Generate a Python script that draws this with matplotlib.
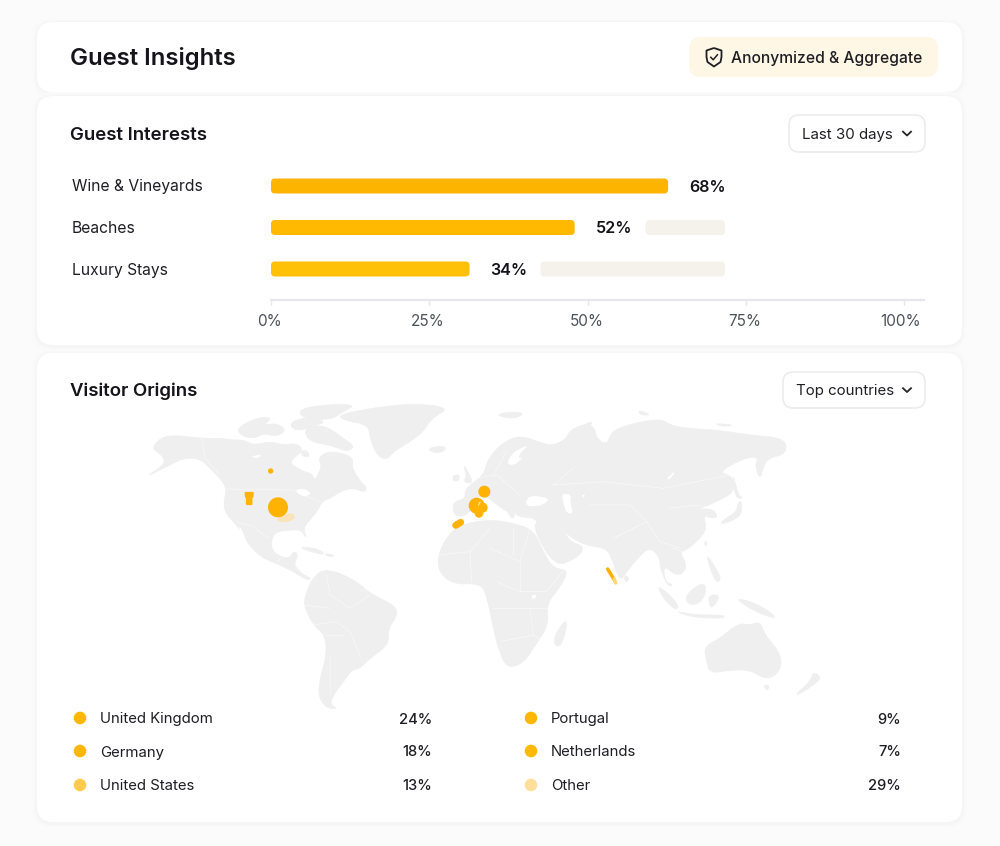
import matplotlib
matplotlib.use("Agg")
import matplotlib.pyplot as plt
from matplotlib.patches import FancyBboxPatch, Polygon, Circle, PathPatch
from matplotlib.path import Path

plt.rcParams['font.family'] = ['Inter', 'DejaVu Sans']

# Bars
interest_names = ["Wine & Vineyards", "Beaches", "Luxury Stays"]
interest_values = [68, 52, 34]
interest_colors = ["#FDB400", "#FFBA00", "#FFC108"]
axis_ticks = [0, 25, 50, 75, 100]

# Legend table
left_names = ["United Kingdom", "Germany", "United States"]
left_values = [24, 18, 13]
left_colors = ["#FFB703", "#FFB703", "#FFCB4F"]
right_names = ["Portugal", "Netherlands", "Other"]
right_values = [9, 7, 29]
right_colors = ["#FFB703", "#FFBA08", "#FFDF9B"]

# World outlines in map units (3 units = 1 px)
north_america = [(65,160),(90,130),(130,120),(215,130),(270,130),(310,135),(340,135),(370,150),(420,140),(460,150),(500,145),(520,165),(490,190),(480,205),(520,230),(545,235),(555,258),(565,235),(575,215),(565,190),(590,170),(640,175),(670,190),(665,220),(700,270),(710,290),(670,280),(640,285),(600,310),(575,320),(565,345),(535,380),(520,400),(530,432),(515,405),(480,405),(440,410),(425,430),(425,465),(450,485),(480,490),(490,468),(505,480),(490,510),(520,540),(545,550),(530,555),(490,530),(450,510),(400,490),(365,460),(345,430),(320,390),(290,360),(280,330),(290,280),(270,250),(245,225),(210,190),(160,190),(130,205),(40,250),(110,205),(90,175)]
greenland = [(625,60),(720,40),(850,25),(960,38),(905,70),(880,110),(840,140),(790,170),(770,195),(740,180),(720,130),(715,90),(640,75)]
south_america = [(575,525),(620,530),(680,560),(720,595),(800,635),(800,665),(775,700),(775,750),(720,790),(690,820),(665,825),(640,860),(610,900),(600,930),(625,940),(590,940),(565,905),(570,850),(590,780),(585,720),(550,690),(520,630),(530,590),(545,555)]
africa = [(925,470),(970,400),(1030,380),(1090,375),(1150,385),(1210,405),(1240,470),(1270,520),(1315,525),(1295,570),(1250,625),(1255,690),(1220,745),(1180,805),(1130,820),(1105,760),(1090,700),(1070,600),(1050,565),(970,568),(925,530)]
eurasia = [(970,360),(970,320),(1005,312),(1005,285),(1030,262),(1060,240),(1075,190),(1115,145),(1170,120),(1245,148),(1275,150),(1310,130),(1320,105),(1370,85),(1395,100),(1400,130),(1430,150),(1445,110),(1490,90),(1590,70),(1620,90),(1670,100),(1760,105),(1860,120),(1965,130),(1970,175),(1915,190),(1900,215),(1890,255),(1875,210),(1885,190),(1860,185),(1800,210),(1770,235),(1805,240),(1815,290),(1760,320),(1700,345),(1745,340),(1765,365),(1745,370),(1720,360),(1730,400),(1710,430),(1670,465),(1650,470),(1670,510),(1660,535),(1635,540),(1600,510),(1605,560),(1630,570),(1615,575),(1590,520),(1590,490),(1565,460),(1540,470),(1490,530),(1470,560),(1445,490),(1430,460),(1365,450),(1320,425),(1300,405),(1320,440),(1365,455),(1340,490),(1275,515),(1210,405),(1225,370),(1160,365),(1155,345),(1150,380),(1115,320),(1085,300),(1140,345),(1130,352),(1065,300),(1030,310),(1025,345),(1000,365)]
australia = [(1722,755),(1770,730),(1825,685),(1860,690),(1890,680),(1905,720),(1955,780),(1950,830),(1910,855),(1860,825),(1805,825),(1740,835),(1730,800)]
islands = [
    [(320,105),(345,85),(395,65),(425,70),(400,90),(440,85),(470,105),(440,125),(400,115),(375,130),(340,125)],
    [(505,45),(570,30),(680,28),(640,50),(600,75),(520,70)],
    [(520,105),(560,90),(600,100),(640,130),(675,155),(650,170),(600,150),(540,140)],
    [(475,85),(530,65),(590,80),(555,92),(500,110)],
    [(510,170),(530,165),(540,185),(520,185)],
    [(665,265),(705,265),(710,290),(680,285)],
    [(890,160),(945,152),(945,168),(915,175)],
    [(1095,60),(1140,50),(1185,55),(1150,72)],
    [(505,455),(560,460),(590,480),(540,470)],
    [(580,475),(615,480),(600,487)],
    [(1000,210),(1012,225),(1030,265),(1000,262),(1010,240)],
    [(970,240),(990,240),(985,258),(968,258)],
    [(1325,110),(1380,80),(1390,85),(1340,120)],
    [(1525,45),(1565,60),(1530,60)],
    [(1750,85),(1815,90),(1780,95)],
    [(1770,388),(1780,375),(1820,350),(1825,320),(1835,320),(1835,360),(1800,380)],
    [(1810,240),(1825,300),(1840,310),(1820,310),(1805,260)],
    [(1485,540),(1498,550),(1490,562),(1483,555)],
    [(1725,435),(1732,445),(1725,455)],
    [(1730,480),(1745,500),(1775,550),(1760,565),(1740,520)],
    [(1665,600),(1720,560),(1730,590),(1710,625),(1675,630)],
    [(1580,570),(1620,600),(1648,635),(1635,645),(1600,610)],
    [(1645,650),(1700,660),(1785,660),(1780,670),(1700,668),(1650,655)],
    [(1735,600),(1770,600),(1755,630),(1740,640)],
    [(1815,610),(1865,620),(1920,650),(1940,670),(1900,660),(1860,640)],
    [(1900,870),(1920,872),(1910,888)],
    [(2050,830),(2075,848),(2050,870),(2005,900),(2000,895),(2040,860)],
    [(1305,675),(1312,690),(1295,750),(1275,755),(1272,725)],
]
# Inland water and enclosed seas
water = [
    [(1130,205),(1145,178),(1170,160),(1195,152),(1172,172),(1165,190),(1180,188),(1150,212)],
    [(1185,325),(1200,300),(1260,310),(1240,330),(1200,335)],
    [(1295,295),(1325,300),(1320,320),(1330,355),(1310,355),(1300,325)],
    [(1355,300),(1365,298),(1360,310)],
    [(1610,250),(1635,228),(1630,240),(1615,255)],
    [(1205,600),(1220,600),(1215,612),(1205,610)],
    [(495,285),(520,280),(545,295),(525,305),(510,300)],
    [(325,395),(335,400),(352,450),(340,440)],
    [(360,185),(395,178),(385,190)],
]
borders = [
    [(285,282),(490,285),(520,300),(570,320)], [(215,130),(225,190),(270,240)],
    [(320,380),(370,395),(415,430)], [(440,500),(470,480)],
    [(590,540),(600,600),(660,640),(720,600)], [(550,690),(620,680),(660,710),(690,780)],
    [(585,720),(640,720)], [(600,780),(600,900)], [(520,630),(600,640)],
    [(925,480),(1020,470),(1080,400)], [(1020,470),(1025,560)],
    [(1080,460),(1170,500),(1200,400)], [(1170,500),(1170,590)],
    [(1100,560),(1170,590),(1250,590)], [(1090,640),(1200,640),(1290,640)],
    [(1200,640),(1210,720)], [(1110,740),(1210,720),(1240,740)],
    [(1150,400),(1150,480)], [(1250,590),(1320,500)],
    [(1270,270),(1420,260),(1600,280),(1700,260),(1800,240),(1840,290)],
    [(1330,220),(1270,270)], [(1030,250),(1100,240),(1170,300)], [(1090,240),(1130,170)],
    [(1380,330),(1500,330),(1550,380),(1450,430)], [(1550,380),(1590,440),(1650,460)],
    [(1700,490),(1630,460)], [(1620,340),(1700,330),(1780,345)],
]
# Origin blobs: x, y, radius in map units
origin_x = [444, 422, 1063, 1040, 1058, 1047]
origin_y = [337, 228, 290, 332, 338, 355]
origin_r = [30, 8, 18, 24, 15, 13]
colorado = [(347,294),(368,294),(367,305),(364,308),(364,327),(351,327),(351,308),(348,305)]
morocco = [(977,391),(992,382)]
faint_patch = [(438,372),(462,362),(482,352),(498,366),(480,380),(450,382)]
india_strip = [(1433,522),(1453,555)]
india_tail = [(1453,552),(1457,564)]

PAGE = "#FBFBFB"
TEXT = "#14141A"
TEXT2 = "#50525A"
BODY = "#1E1E24"

fig = plt.figure(figsize=(10, 8.46), dpi=100, facecolor=PAGE)
W, H = 1000, 846

# Full-figure layer in pixel units for the cards and controls
bg = fig.add_axes([0, 0, 1, 1])
bg.set_xlim(0, W)
bg.set_ylim(H, 0)
bg.axis("off")


def round_box(ax, x0, y0, x1, y1, r, fc, ec="none", lw=0, z=1):
    p = FancyBboxPatch((x0, y0), x1 - x0, y1 - y0, boxstyle=f"round,pad=0,rounding_size={r}",
                       fc=fc, ec=ec, lw=lw, zorder=z)
    ax.add_patch(p)
    return p


def card(x0, y0, x1, y1):
    # soft shadow built from a few stacked outlines
    for grow, col in [(5, "#FAFAFA"), (3, "#F8F8F8"), (1.5, "#F5F5F5")]:
        round_box(bg, x0 - grow, y0 - grow + 1, x1 + grow, y1 + grow + 1, 16 + grow, col)
    round_box(bg, x0, y0, x1, y1, 16, "white", z=2)


def smooth(points, rounds=2):
    # corner cutting so the coastlines don't look faceted
    pts = list(points)
    for _ in range(rounds):
        out = []
        for (x0, y0), (x1, y1) in zip(pts, pts[1:] + pts[:1]):
            out.append((0.75 * x0 + 0.25 * x1, 0.75 * y0 + 0.25 * y1))
            out.append((0.25 * x0 + 0.75 * x1, 0.25 * y0 + 0.75 * y1))
        pts = out
    return pts


card(37, 22, 962, 92)
card(37, 96, 962, 345)
card(37, 353, 962, 822)

bg.text(70, 56.5, "Guest Insights", fontsize=17.2, fontweight=600, color=TEXT, va="center_baseline", zorder=5)
bg.text(70, 133, "Guest Interests", fontsize=13.4, fontweight=600, color=TEXT, va="center_baseline", zorder=5)
bg.text(70, 389.5, "Visitor Origins", fontsize=13.4, fontweight=600, color=TEXT, va="center_baseline", zorder=5)

# Privacy badge with a shield icon
round_box(bg, 689, 37, 938, 77, 12, "#FFF7E6", z=3)
bg.text(731, 57.5, "Anonymized & Aggregate", fontsize=11.25, fontweight=500, color=BODY, va="center_baseline", zorder=5)
shield = Path([(714, 48), (721.5, 50.5), (721.5, 57), (720.5, 62), (714, 66.5), (707.5, 62), (706.5, 57), (706.5, 50.5), (714, 48)])
bg.add_patch(PathPatch(shield, fc="none", ec="#1F1F24", lw=1.3, joinstyle="round", zorder=5))
bg.plot([710.8, 713.2, 717.4], [57.3, 59.8, 54.8], color="#1F1F24", lw=1.1, zorder=5)


def dropdown(x0, y0, x1, y1, label):
    round_box(bg, x0, y0, x1, y1, 10, "white", ec="#ECECEF", lw=1.2, z=3)
    cy = (y0 + y1) / 2
    bg.text(x0 + 13, cy, label, fontsize=10.8, color=BODY, va="center_baseline", zorder=5)
    cx = x1 - 18
    bg.plot([cx - 4, cx, cx + 4], [cy - 1.8, cy + 2, cy - 1.8], color="#24242A", lw=1.3, zorder=5)


dropdown(789, 115, 925, 152, "Last 30 days")
dropdown(783, 372, 925, 408, "Top countries")

# Interest bars, one axes row per category
PX_PER_PCT = 5.84
bar_ax = fig.add_axes([271 / W, 1 - 290 / H, (924 - 271) / W, (290 - 165) / H])
bar_ax.set_xlim(0, (924 - 271) / PX_PER_PCT)
row_px = 41.5
bar_ax.set_ylim((290 - 186) / row_px, (165 - 186) / row_px)
bar_ax.axis("off")
aspect = (1 / row_px) / (1 / PX_PER_PCT)
bar_h = 15 / row_px
track_end = (725 - 271) / PX_PER_PCT
track_gap = 71 / PX_PER_PCT


def bar_shape(left, width, y, color):
    r = 4 / PX_PER_PCT
    bar_ax.add_patch(FancyBboxPatch((left, y - bar_h / 2), width, bar_h,
                                    boxstyle=f"round,pad=0,rounding_size={r}",
                                    mutation_aspect=aspect, fc=color, ec="none", clip_on=False))


for i, (name, val, col) in enumerate(zip(interest_names, interest_values, interest_colors)):
    start = val + track_gap
    if start < track_end:
        bar_shape(start, track_end - start, i, "#F5F2EC")
    bar_shape(0, val, i, col)
    bar_ax.annotate(f"{val}%", (val, i), xytext=(15, 0), textcoords="offset points",
                    fontsize=11.6, fontweight=600, color=TEXT, va="center_baseline")
    bg.text(72, 185.5 + i * row_px, name, fontsize=11.25, color=BODY, va="center_baseline", zorder=5)

# Percent axis under the bars
tick_ax = fig.add_axes([271 / W, 1 - 306 / H, (924 - 271) / W, 6 / H])
tick_ax.set_xlim(0, (924 - 271) / 6.33)
tick_ax.set_ylim(1, 0)
tick_ax.patch.set_alpha(0)
for s in ["left", "right", "bottom"]:
    tick_ax.spines[s].set_visible(False)
tick_ax.spines["top"].set_color("#E6E7EB")
tick_ax.spines["top"].set_linewidth(1.6)
tick_ax.xaxis.set_ticks_position("top")
tick_ax.set_xticks(axis_ticks)
tick_ax.set_xticklabels([])
tick_ax.set_yticks([])
tick_ax.tick_params(axis="x", direction="out", length=0)
tick_ax.vlines(axis_ticks, 0, 1, color="#E6E7EB", lw=1)
for t in axis_ticks:
    x_px = 271 + t * 6.33
    if t == 100:
        x_px -= 2
    bg.text(x_px - 1, 320.5, f"{t}%", fontsize=11, color=TEXT2, ha="center", va="center_baseline", zorder=5)

# World map
map_ax = fig.add_axes([130 / W, 1 - 715 / H, 720 / W, 320 / H])
map_ax.set_xlim(0, 2160)
map_ax.set_ylim(960, 0)
map_ax.axis("off")
land = "#EFEFEF"
for shape in [north_america, greenland, south_america, africa, eurasia, australia] + islands:
    map_ax.add_patch(Polygon(smooth(shape), closed=True, fc=land, ec=land, lw=0.5, joinstyle="round"))
for shape in water:
    map_ax.add_patch(Polygon(smooth(shape, 1), closed=True, fc="white", ec="none"))
for line in borders:
    xs, ys = zip(*line)
    map_ax.plot(xs, ys, color="white", lw=0.5, alpha=0.6)

map_ax.add_patch(Polygon(smooth(faint_patch, 1), closed=True, fc="#FFE0A6", ec="none", alpha=0.75, zorder=3))
for x, y, r in zip(origin_x, origin_y, origin_r):
    map_ax.add_patch(Circle((x, y), r, fc="#FFB300", ec="none", zorder=4))
map_ax.add_patch(Polygon(colorado, closed=True, fc="#FFB300", ec="#FFB300", lw=1.6, joinstyle="round", zorder=4))
map_ax.plot(*zip(*morocco), color="#FFB300", lw=5.0, solid_capstyle="round", zorder=4)
map_ax.plot([1046, 1050], [330, 322], color="#FFE9B8", lw=0.8, zorder=5)
map_ax.plot(*zip(*india_strip), color="#FFB300", lw=2.5, solid_capstyle="round", zorder=4)
map_ax.plot(*zip(*india_tail), color="#FFD777", lw=2.4, solid_capstyle="round", zorder=4)

# Legend rows
rows_y = [718, 751, 785]
for y, name, val, col in zip(rows_y, left_names, left_values, left_colors):
    bg.add_patch(Circle((80, y), 6.3, fc=col, ec="none", zorder=5))
    bg.text(100, y, name, fontsize=10.75, color=BODY, va="center_baseline", zorder=5)
    bg.text(432, y, f"{val}%", fontsize=10.6, fontweight=500, color=BODY, ha="right", va="center_baseline", zorder=5)
for y, name, val, col in zip(rows_y, right_names, right_values, right_colors):
    bg.add_patch(Circle((531, y), 6.3, fc=col, ec="none", zorder=5))
    bg.text(551, y, name, fontsize=10.75, color=BODY, va="center_baseline", zorder=5)
    bg.text(901, y, f"{val}%", fontsize=10.6, fontweight=500, color=BODY, ha="right", va="center_baseline", zorder=5)

fig.savefig("out.png", dpi=100, facecolor=fig.get_facecolor())
